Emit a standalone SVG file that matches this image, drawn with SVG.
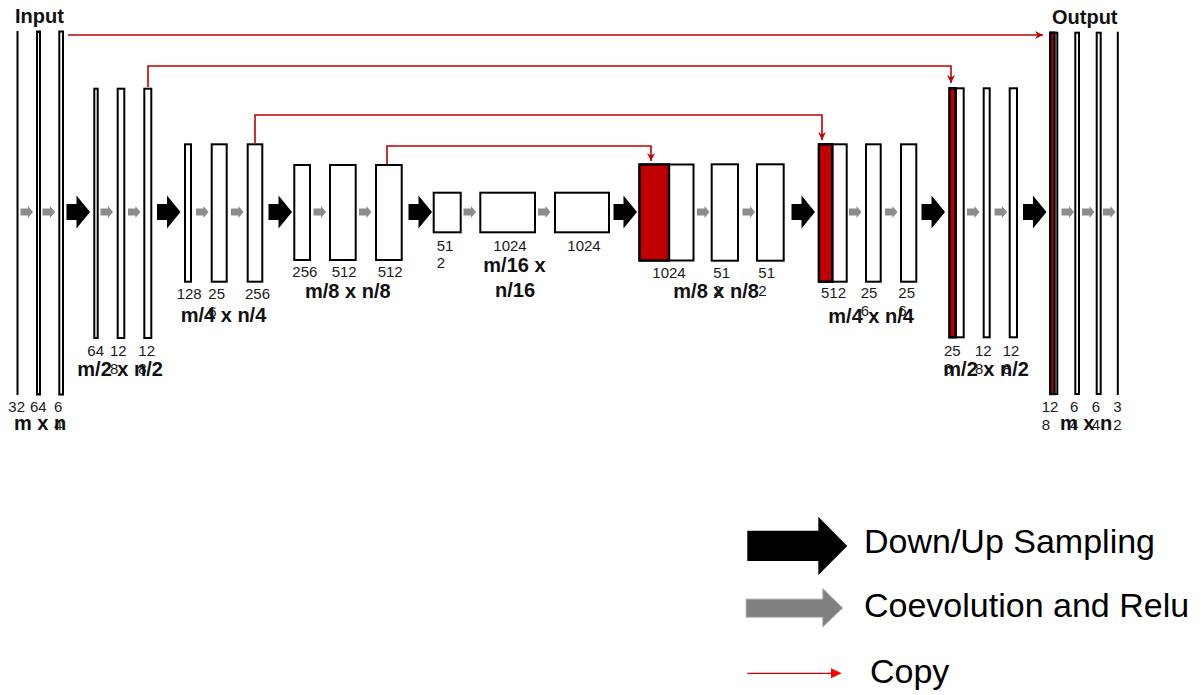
<svg xmlns="http://www.w3.org/2000/svg" width="1201" height="695" viewBox="0 0 1201 695">
<style>
.bar{fill:#fff;stroke:#000;stroke-width:2}
.red{fill:#c00000;stroke:none}
.out{fill:none;stroke:#000;stroke-width:2.4}
.num{font-family:"Liberation Sans",Arial,sans-serif;font-size:15px;fill:#1a1a1a}
.dim{font-family:"Liberation Sans",Arial,sans-serif;font-size:20px;font-weight:bold;fill:#111}
.leg{font-family:"Liberation Sans",Arial,sans-serif;font-size:34px;fill:#000}
.cp{fill:none;stroke:#c00000;stroke-width:1.6}
.ga{fill:#8c8c8c}
.ba{fill:#000}
</style>
<defs>
<marker id="ah" markerUnits="userSpaceOnUse" markerWidth="10" markerHeight="9" refX="8" refY="4" orient="auto">
<path d="M0,0 L8,4 L0,8 L2.5,4 Z" fill="#c00000"/>
</marker>
<path id="g" d="M0,-3.5 H7.5 V-6 L12.5,0 L7.5,6 V3.5 H0 Z"/>
<path id="b" d="M0,-8 H10 V-16.5 L23.5,0 L10,16.5 V8 H0 Z"/>
</defs>

<text class="dim" x="15" y="23">Input</text>
<text class="dim" x="1052" y="24">Output</text>

<g id="connectors">
<path class="cp" d="M68,35 H1043" marker-end="url(#ah)"/>
<path class="cp" d="M148,87 V66 H951 V83" marker-end="url(#ah)"/>
<path class="cp" d="M255,143 V115 H822 V140" marker-end="url(#ah)"/>
<path class="cp" d="M387,164 V146 H651 V161" marker-end="url(#ah)"/>
<g class="ga">
<use href="#g" x="20.5" y="212"/><use href="#g" x="42.5" y="212"/>
<use href="#g" x="100.5" y="212"/><use href="#g" x="128" y="212"/>
<use href="#g" x="196" y="212"/><use href="#g" x="231" y="212"/>
<use href="#g" x="313.5" y="212"/><use href="#g" x="359" y="212"/>
<use href="#g" x="463.5" y="212"/><use href="#g" x="538" y="212"/>
<use href="#g" x="697" y="212"/><use href="#g" x="742.5" y="212"/>
<use href="#g" x="849" y="212"/><use href="#g" x="885" y="212"/>
<use href="#g" x="967" y="212"/><use href="#g" x="994.5" y="212"/>
<use href="#g" x="1061.5" y="212"/><use href="#g" x="1082" y="212"/><use href="#g" x="1103" y="212"/>
</g>
<g class="ba">
<use href="#b" x="66.5" y="212"/><use href="#b" x="157" y="212"/>
<use href="#b" x="268.5" y="212"/><use href="#b" x="408.5" y="212"/>
<use href="#b" x="613.5" y="212"/><use href="#b" x="791.5" y="212"/>
<use href="#b" x="921.5" y="212"/><use href="#b" x="1023" y="212"/>
</g>
</g>

<!-- encoder level 1 -->
<g id="e1a"><line x1="17.5" y1="31" x2="17.5" y2="395" stroke="#000" stroke-width="2"/></g>
<g id="e1b"><rect class="bar" x="37" y="31.5" width="3" height="363"/></g>
<g id="e1c"><rect class="bar" x="59.3" y="31.5" width="3.7" height="363"/></g>
<!-- encoder level 2 -->
<g id="e2a"><rect class="bar" x="94.3" y="88.7" width="3.4" height="249.3"/></g>
<g id="e2b"><rect class="bar" x="117.7" y="88.7" width="6.6" height="249.3"/></g>
<g id="e2c"><rect class="bar" x="144.3" y="88.7" width="7" height="249.3"/></g>
<!-- encoder level 3 -->
<g id="e3a"><rect class="bar" x="185" y="144.3" width="6" height="137.4"/></g>
<g id="e3b"><rect class="bar" x="211.7" y="144.3" width="15" height="137.4"/></g>
<g id="e3c"><rect class="bar" x="247.7" y="144.3" width="14.6" height="137.4"/></g>
<!-- encoder level 4 -->
<g id="e4a"><rect class="bar" x="294.3" y="165" width="15.7" height="95"/></g>
<g id="e4b"><rect class="bar" x="330" y="165" width="25.7" height="95"/></g>
<g id="e4c"><rect class="bar" x="376" y="165" width="25.7" height="95"/></g>
<!-- bottleneck -->
<g id="m1"><rect class="bar" x="433.7" y="192.7" width="27" height="39.6"/></g>
<g id="m2"><rect class="bar" x="480.3" y="192.7" width="54.7" height="39.6"/></g>
<g id="m3"><rect class="bar" x="555" y="192.7" width="54" height="39.6"/></g>
<!-- decoder level 4 -->
<g id="d4a"><rect class="bar" x="639.5" y="164.5" width="54" height="96"/><rect class="red" x="639.5" y="164.5" width="29.5" height="96"/><line x1="669" y1="164" x2="669" y2="261" stroke="#000" stroke-width="2"/><rect class="out" x="639.5" y="164.5" width="29.5" height="96"/></g>
<g id="d4b"><rect class="bar" x="711.7" y="164.3" width="26.3" height="96.4"/></g>
<g id="d4c"><rect class="bar" x="757" y="164.3" width="26.7" height="96.4"/></g>
<!-- decoder level 3 -->
<g id="d3a"><rect class="bar" x="818.9" y="144.3" width="27.8" height="137.4"/><rect class="red" x="818.9" y="144.3" width="13.4" height="137.4"/><line x1="832.3" y1="143.5" x2="832.3" y2="282.5" stroke="#000" stroke-width="2"/><rect class="out" x="818.9" y="144.3" width="13.4" height="137.4"/></g>
<g id="d3b"><rect class="bar" x="866" y="144.3" width="14.7" height="137.4"/></g>
<g id="d3c"><rect class="bar" x="901" y="144.3" width="15.3" height="137.4"/></g>
<!-- decoder level 2 -->
<g id="d2a"><rect class="bar" x="949.5" y="88.3" width="14.2" height="249"/><rect class="red" x="949.5" y="88.3" width="6.2" height="249"/><line x1="955.7" y1="87.5" x2="955.7" y2="338" stroke="#000" stroke-width="1.6"/><rect class="out" x="949.5" y="88.3" width="6.2" height="249"/></g>
<g id="d2b"><rect class="bar" x="983.7" y="88.3" width="6" height="249"/></g>
<g id="d2c"><rect class="bar" x="1009.7" y="88.3" width="7.3" height="249"/></g>
<!-- decoder level 1 -->
<g id="d1a"><rect class="bar" x="1050.3" y="32.7" width="7" height="361.3"/><rect class="red" x="1050.8" y="33.2" width="3.5" height="360.3"/><line x1="1054.5" y1="32" x2="1054.5" y2="394.5" stroke="#000" stroke-width="1.2"/><rect class="out" x="1050.3" y="32.7" width="4.2" height="361.3"/></g>
<g id="d1b"><rect class="bar" x="1075.3" y="32.7" width="3.7" height="361.3"/></g>
<g id="d1c"><rect class="bar" x="1096.7" y="32.7" width="4" height="361.3"/></g>
<g id="d1d"><line x1="1117.8" y1="31.7" x2="1117.8" y2="395" stroke="#000" stroke-width="2"/></g>

<g id="labels">
<text class="num" x="8.3" y="412">32</text><text class="num" x="30" y="412">64</text><text class="num" x="54" y="412">6</text><text class="num" x="54" y="430">4</text>
<text class="dim" x="14" y="430">m x n</text>
<text class="num" x="87.3" y="355.7">64</text><text class="num" x="110" y="355.7">12</text><text class="num" x="110" y="373.5">8</text><text class="num" x="138.3" y="355.7">12</text><text class="num" x="138.3" y="373.5">8</text>
<text class="dim" x="77.3" y="375.7">m/2 x n/2</text>
<text class="num" x="176.7" y="299.3">128</text><text class="num" x="208.3" y="299.3">25</text><text class="num" x="208.3" y="317">6</text><text class="num" x="245" y="299.3">256</text>
<text class="dim" x="180.7" y="321.7">m/4 x n/4</text>
<text class="num" x="292.3" y="277.3">256</text><text class="num" x="331.7" y="277.3">512</text><text class="num" x="377.7" y="277.3">512</text>
<text class="dim" x="305" y="298.3">m/8 x n/8</text>
<text class="num" x="436.7" y="250.7">51</text><text class="num" x="436.7" y="268.3">2</text><text class="num" x="493.3" y="250.7">1024</text><text class="num" x="567.3" y="250.7">1024</text>
<text class="dim" x="483.3" y="271.7">m/16 x</text><text class="dim" x="495" y="296.7">n/16</text>
<text class="num" x="652.3" y="277.7">1024</text><text class="num" x="713.3" y="277.7">51</text><text class="num" x="713.3" y="295.5">2</text><text class="num" x="758.3" y="277.7">51</text><text class="num" x="758.3" y="295.5">2</text>
<text class="dim" x="673.3" y="298.3">m/8 x n/8</text>
<text class="num" x="821" y="298.3">512</text><text class="num" x="860.7" y="298.3">25</text><text class="num" x="860.7" y="316">6</text><text class="num" x="898.3" y="298.3">25</text><text class="num" x="898.3" y="316">6</text>
<text class="dim" x="828.3" y="322.7">m/4 x n/4</text>
<text class="num" x="944" y="355.7">25</text><text class="num" x="944" y="373.5">6</text><text class="num" x="975" y="355.7">12</text><text class="num" x="975" y="373.5">8</text><text class="num" x="1002.7" y="355.7">12</text><text class="num" x="1002.7" y="373.5">8</text>
<text class="dim" x="943.3" y="376">m/2 x n/2</text>
<text class="num" x="1041.7" y="411.7">12</text><text class="num" x="1041.7" y="430">8</text><text class="num" x="1070" y="411.7">6</text><text class="num" x="1070" y="430">4</text><text class="num" x="1091.7" y="411.7">6</text><text class="num" x="1091.7" y="430">4</text><text class="num" x="1113.3" y="411.7">3</text><text class="num" x="1113.3" y="430">2</text>
<text class="dim" x="1060" y="430">m x n</text>
</g>

<g id="legend">
<path d="M747.3,530.7 H818.3 V516.7 L847.3,545.9 L818.3,575 V561 H747.3 Z" fill="#000"/>
<text class="leg" x="864" y="553.3">Down/Up Sampling</text>
<path d="M746,599 H822.7 V588.3 L842.7,608 L822.7,627.3 V617.3 H746 Z" fill="#808080" stroke="#bdbdbd" stroke-width="1"/>
<text class="leg" x="864" y="616.7">Coevolution and Relu</text>
<line x1="747.3" y1="673.3" x2="833" y2="673.3" stroke="#e00000" stroke-width="1.2"/>
<path d="M831,668.3 L841.7,673.3 L831,678.3 Z" fill="#ff0000"/>
<text class="leg" x="870" y="683" font-size="33">Copy</text>
</g>
</svg>
